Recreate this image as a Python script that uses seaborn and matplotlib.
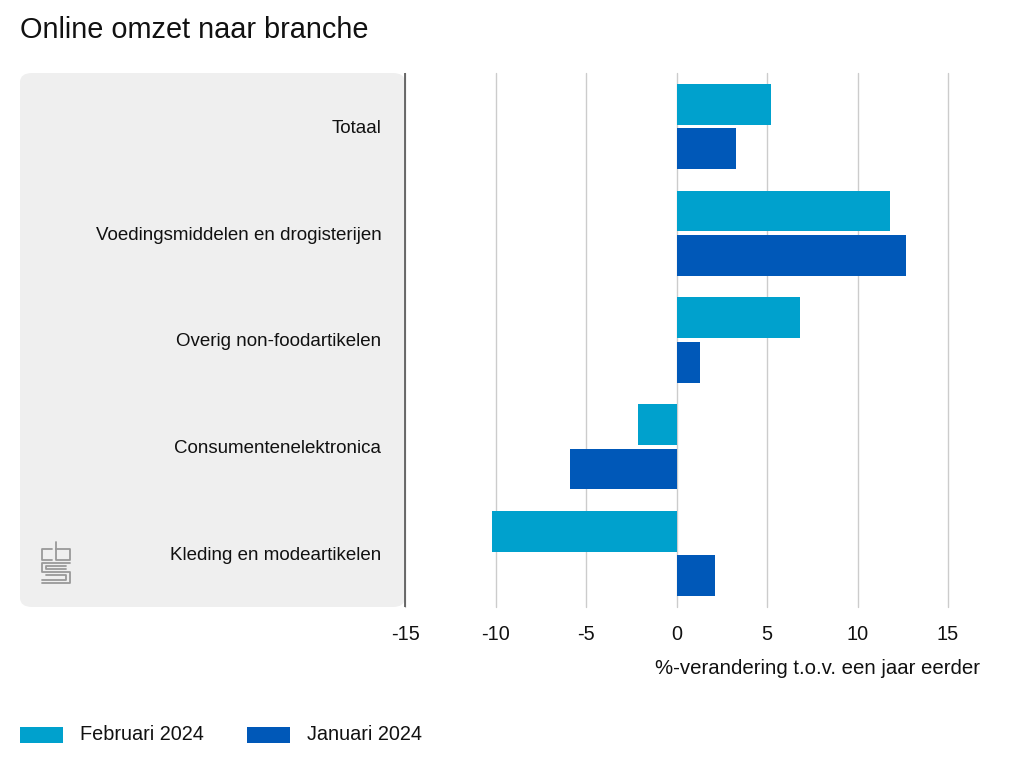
import matplotlib
matplotlib.use("Agg")
import matplotlib.pyplot as plt
import seaborn as sns
import pandas as pd
from matplotlib.patches import FancyBboxPatch, Rectangle
from matplotlib.lines import Line2D

categories = ["Totaal", "Voedingsmiddelen en drogisterijen", "Overig non-foodartikelen",
              "Consumentenelektronica", "Kleding en modeartikelen"]
feb_2024 = [5.2, 11.8, 6.8, -2.1, -10.2]
jan_2024 = [3.3, 12.7, 1.3, -5.9, 2.1]
series = ["Februari 2024", "Januari 2024"]
colors = ["#00A1CD", "#0058B8"]
xticks = [-15, -10, -5, 0, 5, 10, 15]

df = pd.DataFrame({
    "branche": categories * 2,
    "waarde": feb_2024 + jan_2024,
    "periode": [series[0]] * len(categories) + [series[1]] * len(categories),
})

sns.set_theme(style="white")
plt.rcParams['font.family'] = ['Liberation Sans', 'DejaVu Sans']

W, H = 1024, 768
FS = 14.3
FSY = 13.5
fig = plt.figure(figsize=(10.24, 7.68), dpi=100)

# grey panel
panel = FancyBboxPatch((20 / W, 1 - 607 / H), (405 - 20) / W, (607 - 73) / H,
                       boxstyle="round,pad=0,rounding_size=0.012",
                       transform=fig.transFigure, facecolor="#EFEFEF",
                       edgecolor="none", zorder=-5)
fig.patches.append(panel)

ax = fig.add_axes([405 / W, 1 - 607 / H, (948 - 405) / W, (607 - 73) / H])
ax.patch.set_alpha(0)

sns.barplot(data=df, y="branche", x="waarde", hue="periode", orient="h",
            palette=colors, ax=ax, width=0.83, gap=0.08, legend=False,
            saturation=1, linewidth=0, zorder=3)

ax.set_xlim(-15, 15)
ax.set_xticks(xticks)
ax.set_xticklabels([str(t) for t in xticks], fontsize=FS, color="#111111")
ax.set_ylim(len(categories) - 0.5, -0.5)
ax.tick_params(axis="y", length=0, pad=17, labelsize=FSY, labelcolor="#111111")
ax.tick_params(axis="x", length=0, pad=13)
ax.set_ylabel("")
ax.set_xlabel("")
for t in ax.get_yticklabels():
    t.set_fontsize(FSY)
ax.grid(axis="x", color="#CCCCCC", linewidth=1, zorder=0)
for gl in ax.get_xgridlines():
    gl.set_clip_on(False)
ax.set_axisbelow(True)
for s in ["top", "right", "bottom"]:
    ax.spines[s].set_visible(False)
ax.spines["left"].set_color("#555555")
ax.spines["left"].set_linewidth(1.2)
ax.spines["left"].set_capstyle("butt")
ax.spines["left"].set_zorder(4)

fig.text(980 / W, 1 - 669 / H, "%-verandering t.o.v. een jaar eerder",
         ha="right", va="center", fontsize=14.7, color="#111111")

fig.text(20 / W, 1 - 30 / H, "Online omzet naar branche", ha="left",
         va="center", fontsize=20.8, color="#111111")

# legend
for i, (lab, col) in enumerate(zip(series, colors)):
    x0 = [20, 247][i]
    fig.patches.append(Rectangle((x0 / W, 1 - 743 / H), 43 / W, 16 / H,
                                 transform=fig.transFigure, facecolor=col,
                                 edgecolor="none"))
    fig.text((x0 + 60) / W, 1 - 735 / H, lab, ha="left", va="center",
             fontsize=FS, color="#111111")

# simple cbs logo approximation
lc = "#999999"
def seg(pts):
    xs = [p[0] / W for p in pts]
    ys = [1 - p[1] / H for p in pts]
    fig.lines.append(Line2D(xs, ys, transform=fig.transFigure, color=lc, lw=1.3))
# 'c'
seg([(52, 549), (42, 549), (42, 560), (52, 560)])
# 'b'
seg([(56, 542), (56, 560), (70, 560), (70, 549), (56, 549)])
# 's'
seg([(70, 563), (42, 563), (42, 572), (70, 572), (70, 583), (42, 583)])
seg([(66, 566), (46, 566), (46, 569), (66, 569)])
seg([(46, 575), (66, 575), (66, 580), (42, 580)])

fig.savefig("out.png", dpi=100)
